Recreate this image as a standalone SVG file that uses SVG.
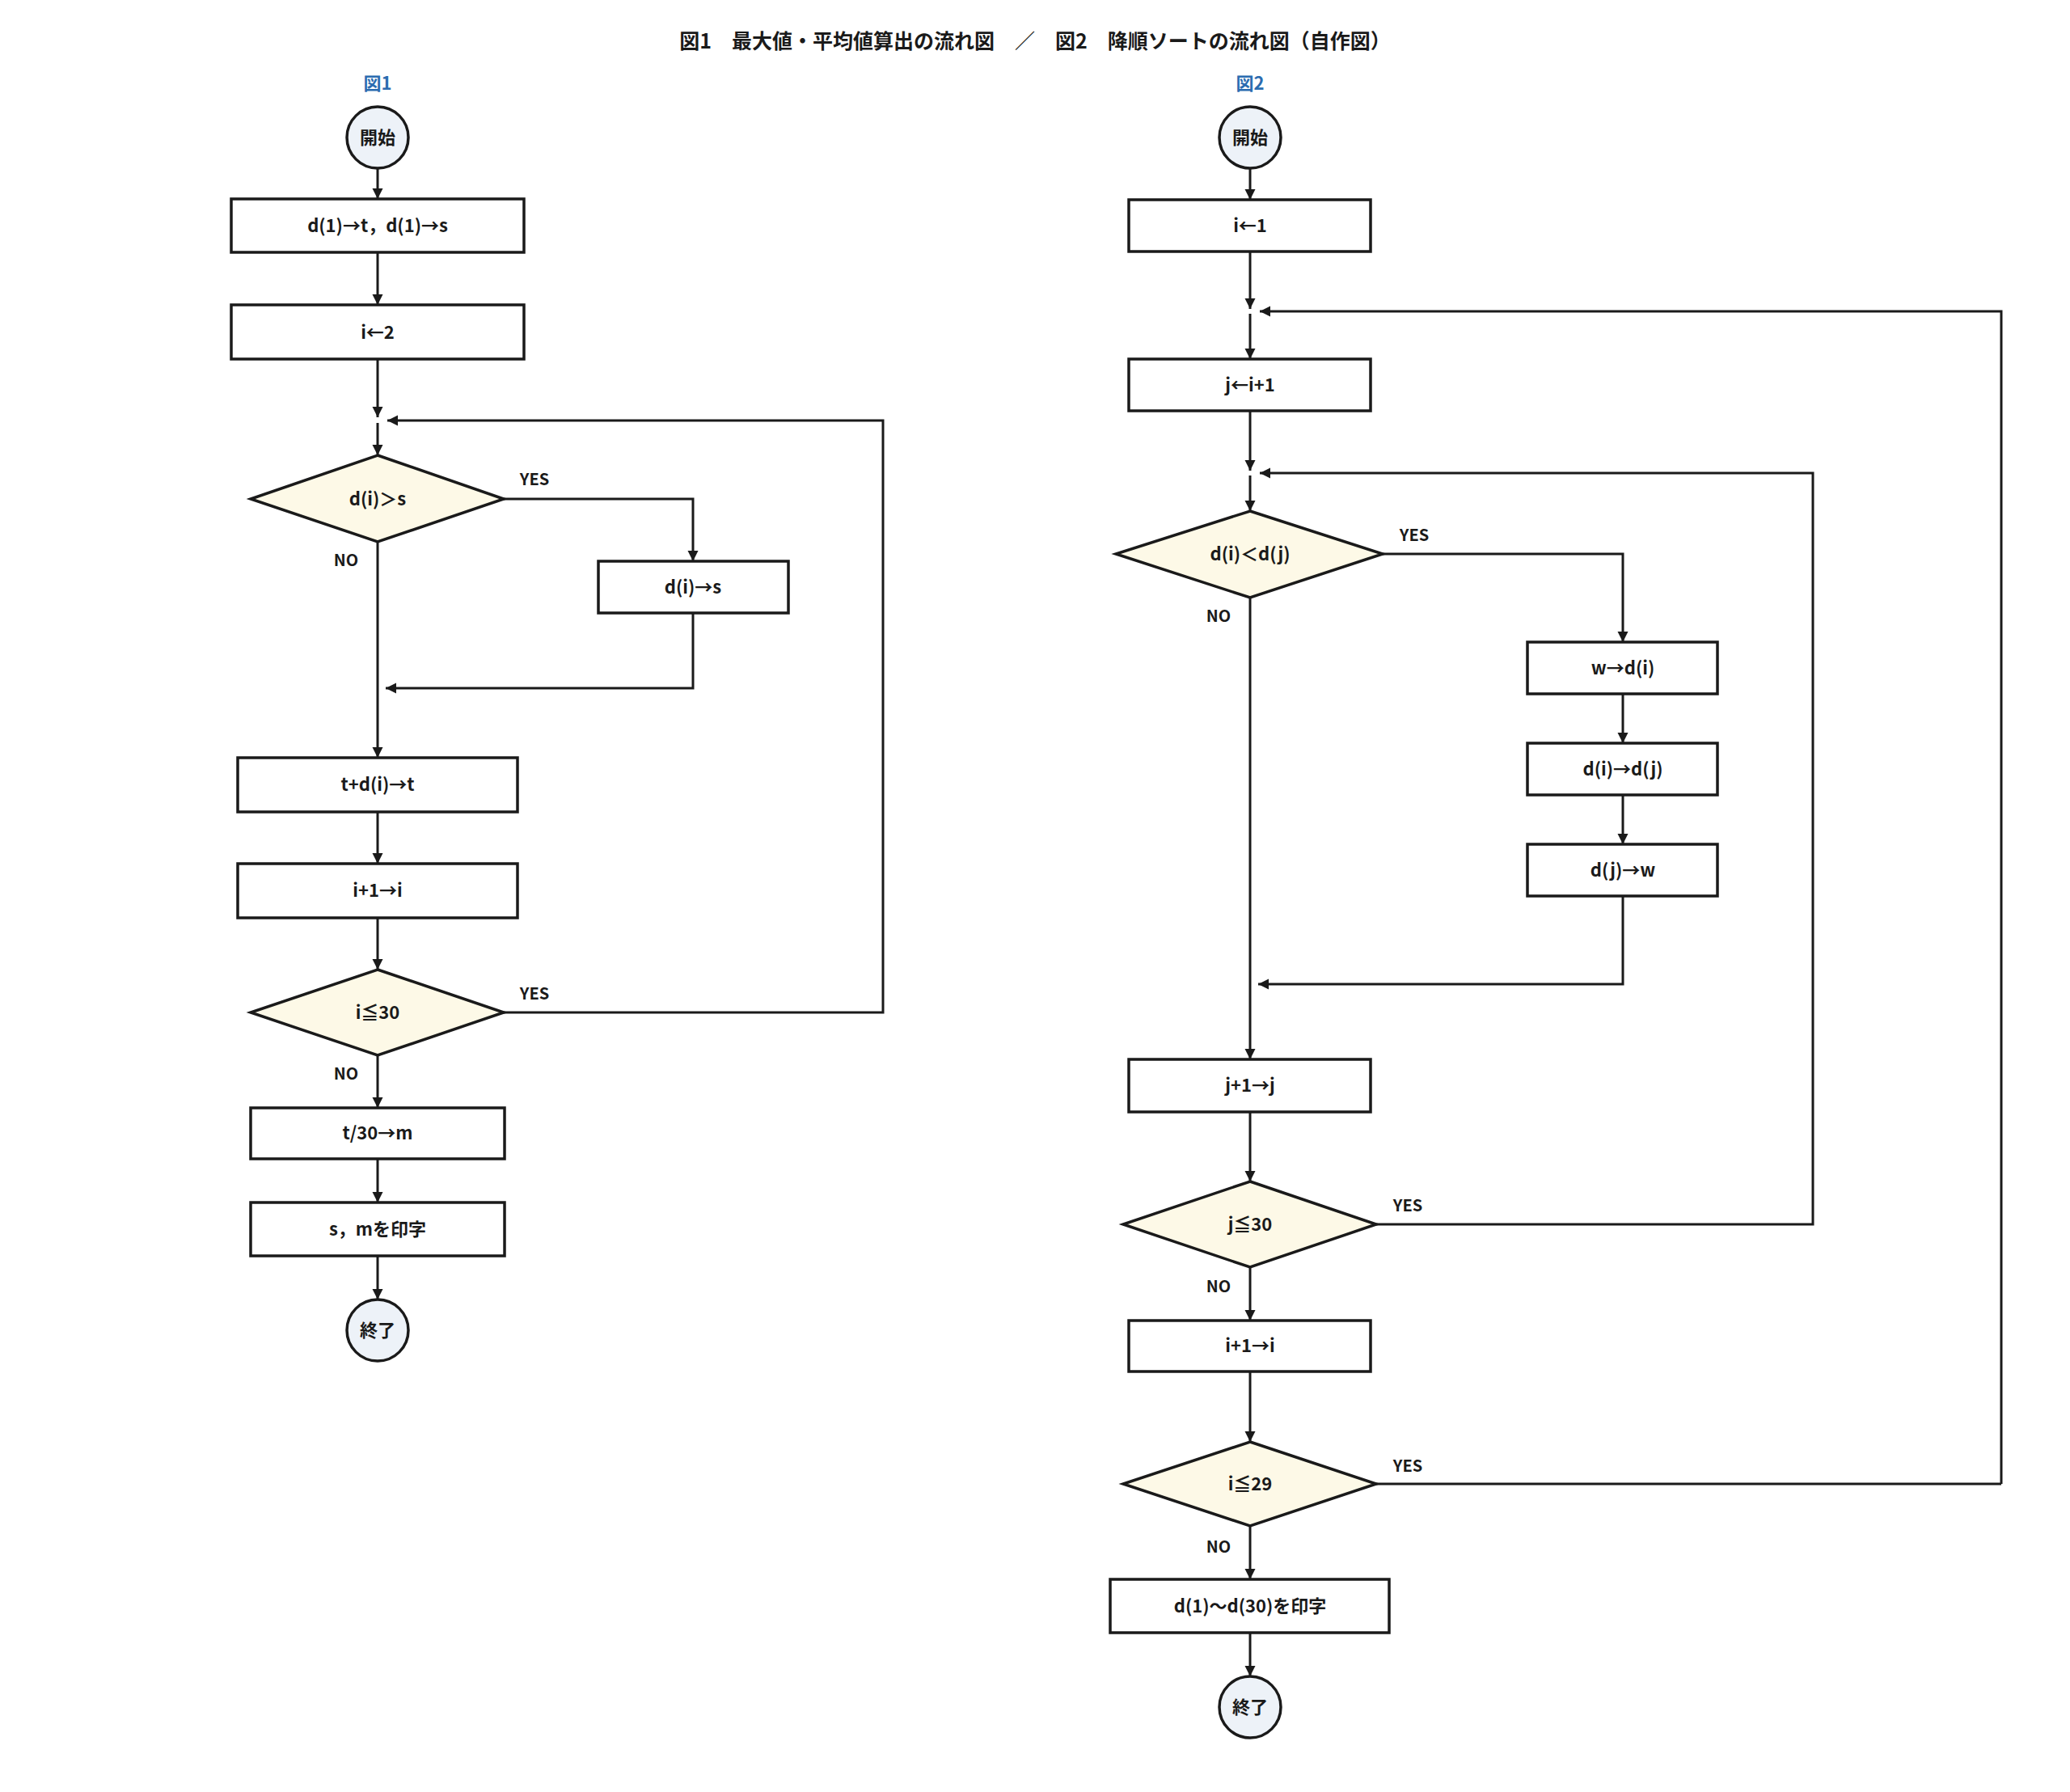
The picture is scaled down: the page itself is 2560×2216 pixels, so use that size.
<svg xmlns="http://www.w3.org/2000/svg" width="2560" height="2216" viewBox="0 0 2560 2216">
<defs>
<style>
text{font-family:"Noto Sans CJK JP","Noto Sans",sans-serif;fill:#1a1a1a;dominant-baseline:central;text-anchor:middle}
.title{font-size:25px;font-weight:700}
.fig{font-size:22px;font-weight:700;fill:#2b6cb0}
.lbl{font-size:22px;font-weight:700}
.yn{font-size:20px;font-weight:700}
.box{fill:#ffffff;stroke:#1a1a1a;stroke-width:3.5}
.dia{fill:#fdf9e7;stroke:#1a1a1a;stroke-width:3.5;stroke-linejoin:miter}
.term{fill:#edf2f8;stroke:#1a1a1a;stroke-width:3.5}
.c{fill:none;stroke:#1a1a1a;stroke-width:3}
.a{marker-end:url(#ah)}
</style>
<marker id="ah" markerWidth="14" markerHeight="14" refX="13" refY="7" orient="auto" markerUnits="userSpaceOnUse">
<path d="M0,0.5 L13,7 L0,13.5 z" fill="#1a1a1a"/>
</marker>
</defs>
<rect width="2560" height="2216" fill="#ffffff"/>
<text class="title" x="1280" y="49">図1　最大値・平均値算出の流れ図　／　図2　降順ソートの流れ図（自作図）</text>
<text class="fig" x="467" y="101">図1</text>
<text class="fig" x="1546" y="101">図2</text>

<g id="connectors">
<!-- Figure 1 -->
<path class="c a" d="M467,208 L467,246"/>
<path class="c a" d="M467,312 L467,377"/>
<path class="c a" d="M467,444 L467,516"/>
<path class="c a" d="M467,523 L467,563"/>
<path class="c a" d="M623,617 L857,617 L857,694"/>
<path class="c a" d="M857,758 L857,851 L477,851"/>
<path class="c a" d="M467,670 L467,937"/>
<path class="c a" d="M467,1004 L467,1068"/>
<path class="c a" d="M467,1135 L467,1199"/>
<path class="c a" d="M623,1252 L1092,1252 L1092,520 L479,520"/>
<path class="c a" d="M467,1305 L467,1370"/>
<path class="c a" d="M467,1433 L467,1487"/>
<path class="c a" d="M467,1553 L467,1607"/>
<!-- Figure 2 -->
<path class="c a" d="M1546,208 L1546,247"/>
<path class="c a" d="M1546,311 L1546,382"/>
<path class="c a" d="M1546,388 L1546,444"/>
<path class="c a" d="M2475,1835 L2475,385 L1558,385"/>
<path class="c a" d="M1546,508 L1546,582"/>
<path class="c a" d="M1546,588 L1546,632"/>
<path class="c a" d="M1702,1514 L2242,1514 L2242,585 L1558,585"/>
<path class="c a" d="M1710,685 L2007,685 L2007,794"/>
<path class="c a" d="M2007,858 L2007,919"/>
<path class="c a" d="M2007,983 L2007,1044"/>
<path class="c a" d="M2007,1108 L2007,1217 L1556,1217"/>
<path class="c a" d="M1546,739 L1546,1310"/>
<path class="c a" d="M1546,1375 L1546,1461"/>
<path class="c a" d="M1546,1567 L1546,1633"/>
<path class="c a" d="M1546,1696 L1546,1783"/>
<path class="c" d="M1702,1835 L2475,1835"/>
<path class="c a" d="M1546,1887 L1546,1953"/>
<path class="c a" d="M1546,2019 L1546,2073"/>
</g>

<g id="yn-labels">
<text class="yn" x="661" y="591">YES</text>
<text class="yn" x="428" y="691">NO</text>
<text class="yn" x="661" y="1227">YES</text>
<text class="yn" x="428" y="1326">NO</text>
<text class="yn" x="1749" y="660">YES</text>
<text class="yn" x="1507" y="760">NO</text>
<text class="yn" x="1741" y="1489">YES</text>
<text class="yn" x="1507" y="1589">NO</text>
<text class="yn" x="1741" y="1811">YES</text>
<text class="yn" x="1507" y="1911">NO</text>
</g>

<!-- Figure 1 nodes -->
<g id="f1-start"><circle class="term" cx="467" cy="170" r="38"/><text class="lbl" x="467" y="168">開始</text></g>
<g id="f1-init"><rect class="box" x="286" y="246" width="362" height="66"/><text class="lbl" x="467" y="277">d(1)→t，d(1)→s</text></g>
<g id="f1-i2"><rect class="box" x="286" y="377" width="362" height="67"/><text class="lbl" x="467" y="409">i←2</text></g>
<g id="f1-cmp"><polygon class="dia" points="467,563 623,617 467,670 310,617"/><text class="lbl" x="467" y="615">d(i)＞s</text></g>
<g id="f1-set"><rect class="box" x="740" y="694" width="235" height="64"/><text class="lbl" x="857" y="724">d(i)→s</text></g>
<g id="f1-sum"><rect class="box" x="294" y="937" width="346" height="67"/><text class="lbl" x="467" y="968">t+d(i)→t</text></g>
<g id="f1-inc"><rect class="box" x="294" y="1068" width="346" height="67"/><text class="lbl" x="467" y="1099">i+1→i</text></g>
<g id="f1-loop"><polygon class="dia" points="467,1199 623,1252 467,1305 310,1252"/><text class="lbl" x="467" y="1250">i≦30</text></g>
<g id="f1-avg"><rect class="box" x="310" y="1370" width="314" height="63"/><text class="lbl" x="467" y="1399">t/30→m</text></g>
<g id="f1-print"><rect class="box" x="310" y="1487" width="314" height="66"/><text class="lbl" x="467" y="1518">s，mを印字</text></g>
<g id="f1-end"><circle class="term" cx="467" cy="1645" r="38"/><text class="lbl" x="467" y="1643">終了</text></g>

<!-- Figure 2 nodes -->
<g id="f2-start"><circle class="term" cx="1546" cy="170" r="38"/><text class="lbl" x="1546" y="168">開始</text></g>
<g id="f2-i1"><rect class="box" x="1396" y="247" width="299" height="64"/><text class="lbl" x="1546" y="277">i←1</text></g>
<g id="f2-j"><rect class="box" x="1396" y="444" width="299" height="64"/><text class="lbl" x="1546" y="474">j←i+1</text></g>
<g id="f2-cmp"><polygon class="dia" points="1546,632 1710,685 1546,739 1380,685"/><text class="lbl" x="1546" y="683">d(i)＜d(j)</text></g>
<g id="f2-w"><rect class="box" x="1889" y="794" width="235" height="64"/><text class="lbl" x="2007" y="824">w→d(i)</text></g>
<g id="f2-swap"><rect class="box" x="1889" y="919" width="235" height="64"/><text class="lbl" x="2007" y="949">d(i)→d(j)</text></g>
<g id="f2-back"><rect class="box" x="1889" y="1044" width="235" height="64"/><text class="lbl" x="2007" y="1074">d(j)→w</text></g>
<g id="f2-jinc"><rect class="box" x="1396" y="1310" width="299" height="65"/><text class="lbl" x="1546" y="1340">j+1→j</text></g>
<g id="f2-jloop"><polygon class="dia" points="1546,1461 1702,1514 1546,1567 1389,1514"/><text class="lbl" x="1546" y="1512">j≦30</text></g>
<g id="f2-iinc"><rect class="box" x="1396" y="1633" width="299" height="63"/><text class="lbl" x="1546" y="1662">i+1→i</text></g>
<g id="f2-iloop"><polygon class="dia" points="1546,1783 1702,1835 1546,1887 1389,1835"/><text class="lbl" x="1546" y="1833">i≦29</text></g>
<g id="f2-print"><rect class="box" x="1373" y="1953" width="345" height="66"/><text class="lbl" x="1546" y="1984">d(1)～d(30)を印字</text></g>
<g id="f2-end"><circle class="term" cx="1546" cy="2111" r="38"/><text class="lbl" x="1546" y="2109">終了</text></g>
</svg>
